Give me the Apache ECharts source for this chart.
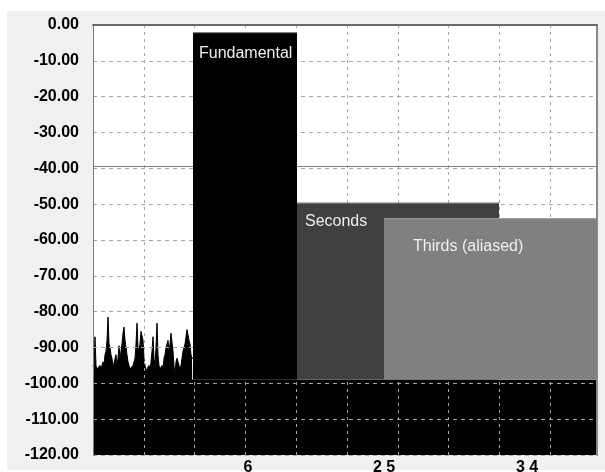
<!DOCTYPE html>
<html>
<head>
<meta charset="utf-8">
<script src="https://cdn.jsdelivr.net/npm/echarts@6/dist/echarts.min.js"></script>
<style>
  html, body { margin: 0; padding: 0; background: #ffffff; }
  #bg { position: absolute; left: 7px; top: 11px; width: 598px; height: 459px; background: #f0f0f0; }
  #chart { position: absolute; left: 0; top: 0; width: 605px; height: 472px; }
</style>
</head>
<body>
<div id="bg"></div>
<div id="chart"></div>
<script>
// ---- data ----
const xMin = 0, xMax = 504, xInterval = 50.8;   // frequency bins
const yMin = -120, yMax = 0, yInterval = 10;     // dB

// spectral regions: name, start bin, end bin, top level (dB), bottom level (dB)
const barNames  = ['Fundamental', 'Seconds', 'Thirds (aliased)'];
const barStart  = [100, 204, 291];
const barEnd    = [204, 406, 504];
const barTop    = [-2.0, -49.6, -53.9];
const barBottom = [-99, -99, -99];

// noise floor across the whole band
const floorTop = -99;

// reference level line
const refLevel = -39.4;

// noise spectrum below the fundamental
const noiseX = [0, 1, 2, 3, 4, 5, 6, 7, 8, 9, 10, 11, 12, 13, 14, 15, 16, 17, 18, 19,
                20, 21, 22, 23, 24, 25, 26, 27, 28, 29, 30, 31, 32, 33, 34, 35, 36, 37, 38, 39,
                40, 41, 42, 43, 44, 45, 46, 47, 48, 49, 50, 51, 52, 53, 54, 55, 56, 57, 58, 59,
                60, 61, 62, 63, 64, 65, 66, 67, 68, 69, 70, 71, 72, 73, 74, 75, 76, 77, 78, 79,
                80, 81, 82, 83, 84, 85, 86, 87, 88, 89, 90, 91, 92, 93, 94, 95, 96, 97, 98, 99, 100];
const noiseY = [-95, -96, -87, -95, -96, -95.5, -96, -95, -96, -95, -94, -95, -92, -91, -88, -81.5, -89, -90, -92, -93,
                -95.5, -96, -95, -92, -95, -93, -89.5, -93, -91, -89, -86, -84.3, -88, -90, -92, -94, -95, -96, -95.5, -96,
                -95, -95.5, -93, -89, -83.2, -90, -91, -89, -85.5, -86, -88, -93, -95, -96.5, -96, -96.5, -95, -96, -94, -91,
                -87, -93, -95, -90, -83.2, -92, -95, -96, -95.5, -95, -96, -93, -92, -90, -89, -88, -91, -89, -86, -86.5,
                -91, -95, -97.7, -94, -93, -94, -95, -96, -95, -93, -91, -90, -89, -87, -85, -85.2, -88, -89, -92, -93, -93];

// x-axis labels
const xLabelPos  = [155, 291, 434];
const xLabelText = ['6', '2 5', '3 4'];

// ---- styles ----
const barFill  = ['#000000', '#404040', '#808080'];
const barEdge  = ['#8a8a8a', '#808080', '#9a9a9a'];
const labelDx  = [6, 8, 29];
const labelDy  = [21, 19, 28];

const chart = echarts.init(document.getElementById('chart'), null, { renderer: 'canvas' });

const barData = barNames.map((n, i) => [barStart[i], barEnd[i], barTop[i], barBottom[i], i]);
const noiseData = noiseX.map((x, i) => [x, noiseY[i]]);

const gridLine = { color: '#a4a4a4', width: 1 };
const labelFont = 'Liberation Sans, Arial, sans-serif';

const option = {
  animation: false,
  grid: { left: 93, top: 25, right: 8, bottom: 17, show: true, backgroundColor: '#ffffff', borderWidth: 0, z: 0,
          containLabel: false, outerBoundsMode: 'none' },
  xAxis: [
    {
      type: 'value', min: xMin, max: xMax, interval: xInterval, position: 'bottom', z: 3,
      axisLine: { show: false }, axisTick: { show: false }, axisLabel: { show: false },
      splitLine: { show: true, lineStyle: Object.assign({ type: [3, 4] }, gridLine) }
    },
    {
      type: 'value', min: xMin, max: xMax, position: 'bottom', z: 3,
      axisLine: { show: false }, axisTick: { show: false }, splitLine: { show: false },
      axisLabel: {
        show: true, customValues: xLabelPos, margin: 5,
        color: '#000000', fontWeight: 'bold', fontSize: 16, fontFamily: labelFont,
        formatter: v => { const i = xLabelPos.findIndex(p => Math.abs(p - v) < 1e-6); return i >= 0 ? xLabelText[i] : ''; }
      }
    },
    {
      type: 'value', min: xMin, max: xMax, position: 'top', z: 4,
      axisLine: { show: true, lineStyle: { color: '#6a6a6a', width: 2 } },
      axisTick: { show: false }, axisLabel: { show: false }, splitLine: { show: false }
    }
  ],
  yAxis: [
    {
      type: 'value', min: yMin, max: yMax, interval: yInterval, position: 'left', z: 3,
      axisLine: { show: true, onZero: false, lineStyle: { color: '#7a7a7a', width: 1 } },
      axisTick: { show: false },
      axisLabel: {
        show: true, margin: 14, color: '#000000', fontWeight: 'bold', fontSize: 16, fontFamily: labelFont,
        formatter: v => v.toFixed(2)
      },
      splitLine: { show: true, lineStyle: Object.assign({ type: [4, 4] }, gridLine) }
    },
    {
      type: 'value', min: yMin, max: yMax, position: 'right', z: 4,
      axisLine: { show: true, onZero: false, lineStyle: { color: '#8a8a8a', width: 2 } },
      axisTick: { show: false }, axisLabel: { show: false }, splitLine: { show: false }
    }
  ],
  series: [
    {
      type: 'custom', name: 'floor', z: 1, xAxisIndex: 0, yAxisIndex: 0, clip: true,
      data: [[xMin, xMax, floorTop, yMin]],
      renderItem: (params, api) => {
        const p0 = api.coord([api.value(0), api.value(2)]);
        const p1 = api.coord([api.value(1), api.value(3)]);
        return { type: 'rect', shape: { x: p0[0], y: p0[1], width: p1[0] - p0[0], height: p1[1] - p0[1] }, style: { fill: '#000000' } };
      }
    },
    {
      type: 'line', name: 'noise', z: 1, xAxisIndex: 0, yAxisIndex: 0,
      data: noiseData, symbol: 'none', showSymbol: false,
      lineStyle: { color: '#000000', width: 1 },
      areaStyle: { color: '#000000', opacity: 1, origin: 'start' },
      markLine: {
        silent: true, symbol: ['none', 'none'], label: { show: false },
        lineStyle: { color: '#808080', type: 'solid', width: 1 },
        data: [{ yAxis: refLevel }]
      }
    },
    {
      type: 'custom', name: 'bands', z: 5, xAxisIndex: 0, yAxisIndex: 0, clip: true,
      data: barData,
      renderItem: (params, api) => {
        const i = api.value(4);
        const p0 = api.coord([api.value(0), api.value(2)]);
        const p1 = api.coord([api.value(1), api.value(3)]);
        return {
          type: 'group',
          children: [
            { type: 'rect', shape: { x: p0[0], y: p0[1], width: p1[0] - p0[0], height: p1[1] - p0[1] }, style: { fill: barFill[i] } },
            { type: 'line', shape: { x1: p0[0], y1: p0[1] + 0.5, x2: p1[0], y2: p0[1] + 0.5 }, style: { stroke: barEdge[i], lineWidth: 1 } },
            { type: 'text', x: p0[0] + labelDx[i], y: p0[1] + labelDy[i],
              style: { text: barNames[i], fill: '#eeeeee', font: '16px ' + labelFont, verticalAlign: 'middle', align: 'left' } }
          ]
        };
      }
    }
  ]
};
chart.setOption(option);
</script>
</body>
</html>
